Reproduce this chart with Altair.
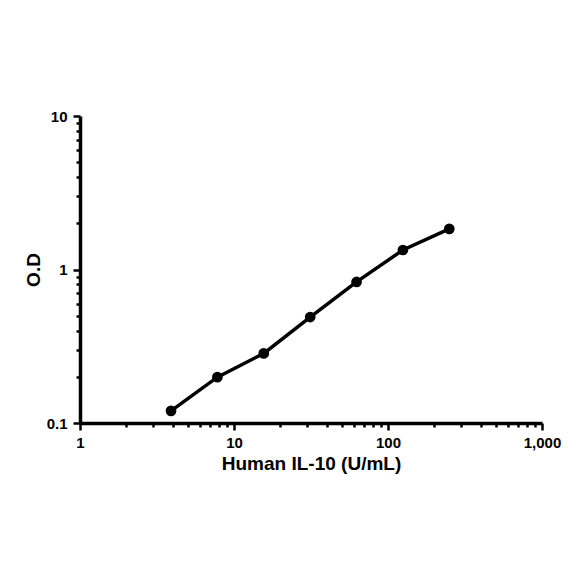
import altair as alt
import pandas as pd

conc = [3.9, 7.8, 15.6, 31.25, 62.5, 125, 250]
od = [0.12, 0.199, 0.284, 0.49, 0.83, 1.34, 1.84]

x_ticks = [1, 2, 3, 4, 5, 6, 7, 8, 9, 10, 20, 30, 40, 50, 60, 70, 80, 90,
           100, 200, 300, 400, 500, 600, 700, 800, 900, 1000]
y_ticks = [0.1, 0.2, 0.3, 0.4, 0.5, 0.6, 0.7, 0.8, 0.9, 1, 2, 3, 4, 5, 6, 7, 8, 9, 10]

df = pd.DataFrame({"conc": conc, "od": od})

font = "Liberation Sans"

x_major = "indexof([1,10,100,1000], datum.value) >= 0"
y_major = "abs(datum.value-0.1)<1e-9 || abs(datum.value-1)<1e-9 || abs(datum.value-10)<1e-9"

common = dict(
    tickWidth=2.5,
    tickColor="black",
    domainColor="black",
    domainWidth=3.5,
    labelFont=font,
    labelFontWeight="bold",
    labelFontSize=15,
    labelColor="black",
    labelOverlap=False,
    labelFlush=False,
    labelBound=False,
    titleFont=font,
    titleFontWeight="bold",
    titleFontSize=19,
    titleColor="black",
    grid=False,
)

x_enc = alt.X(
    "conc:Q",
    scale=alt.Scale(type="log", domain=[1, 1000]),
    axis=alt.Axis(
        title="Human IL-10 (U/mL)",
        values=x_ticks,
        labelExpr=f"({x_major}) ? format(datum.value, ',') : ''",
        tickSize={"condition": {"test": x_major, "value": 7}, "value": 4},
        labelPadding=5,
        titlePadding=4,
        **common,
    ),
)

y_enc = alt.Y(
    "od:Q",
    scale=alt.Scale(type="log", domain=[0.1, 10]),
    axis=alt.Axis(
        title="O.D",
        values=y_ticks,
        labelExpr=f"({y_major}) ? format(datum.value, '') : ''",
        tickSize={"condition": {"test": y_major, "value": 7}, "value": 4},
        labelPadding=6,
        titlePadding=3,
        **common,
    ),
)

base = alt.Chart(df).encode(x=x_enc, y=y_enc)
line = base.mark_line(color="black", strokeWidth=3.5)
pts = base.mark_point(filled=True, color="black", size=115, opacity=1)

chart = (line + pts).properties(
    width=462,
    height=307,
    autosize="none",
    background="white",
    padding={"left": 72, "top": 108, "right": 30, "bottom": 110},
).configure_view(strokeWidth=0, stroke="transparent")

chart.save("out.html", embed_options={"renderer": "svg", "actions": False})
